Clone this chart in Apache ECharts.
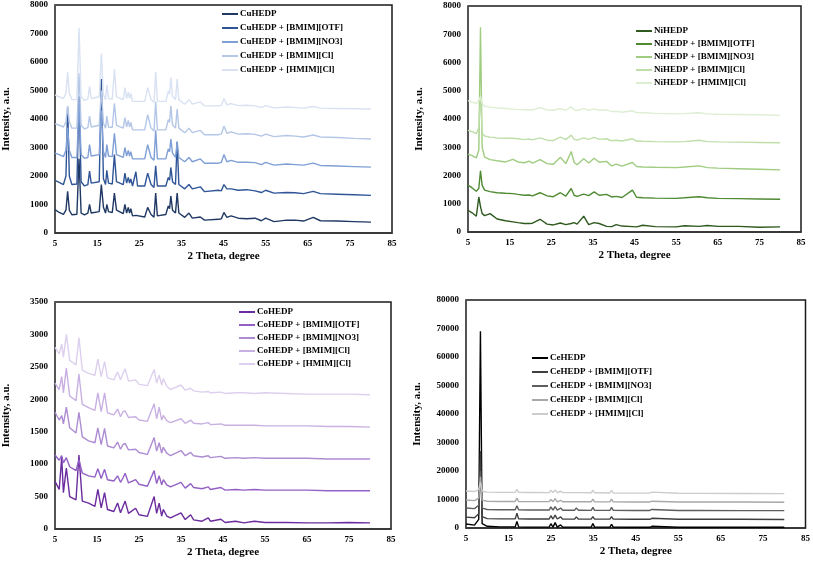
<!DOCTYPE html>
<html>
<head>
<meta charset="utf-8">
<script src="https://cdn.jsdelivr.net/npm/echarts@6/dist/echarts.min.js"></script>
<style>html,body{margin:0;padding:0;background:#fff}#c{width:813px;height:562px}</style>
</head>
<body>
<div id="c"></div>
<script>
// ---------- Cu panel ----------
const cuTheta = [
 5,6,7,7.6,8.0,8.4,9,10.2,10.7,11.2,
 12,12.8,13.2,13.6,15.5,16.0,16.5,17.0,17.3,17.7,
 18.6,19.1,19.6,21.2,21.6,22.0,22.4,22.7,23.0,23.4,
 24.2,24.6,26.3,27.0,27.8,28.5,28.9,29.3,31.3,31.9,
 32.2,32.5,32.9,33.6,34.0,34.4,35.8,36.8,37.6,39.5,
 40.5,43.8,44.5,45.1,45.8,46.8,48.5,50.5,52.5,54,
 55,57,60,62,64,66.3,68,72,76,80];
const cuNames = ['CuHEDP','CuHEDP + [BMIM][OTF]','CuHEDP + [BMIM][NO3]','CuHEDP + [BMIM][Cl]','CuHEDP + [HMIM][Cl]'];
const cuHEDP = [
 820,720,650,800,1460,800,640,660,2600,700,
 640,700,1000,700,750,1700,900,700,1000,750,
 720,1400,800,680,1000,700,900,700,850,600,
 620,550,560,900,650,550,1400,600,650,950,
 850,1300,800,700,1400,700,550,700,520,560,
 450,480,500,720,550,600,520,500,520,430,
 520,400,450,450,420,550,430,420,400,380];
const cuOTF = [
 1850,1780,1700,2000,4400,2000,1700,1720,4800,1800,
 1650,1700,2170,1750,1800,5400,1900,1700,2200,1750,
 1720,2750,1800,1700,2100,1750,1950,1750,1900,1650,
 2150,1650,1650,2100,1700,1600,2360,1650,1650,1950,
 1850,2300,1800,1700,3200,1700,1550,1700,1550,1620,
 1450,1500,1480,1700,1550,1550,1500,1520,1480,1420,
 1500,1400,1420,1410,1380,1460,1380,1360,1340,1320];
const cuNO3 = [
 2800,2750,2680,2900,3700,2900,2650,2650,4600,2750,
 2620,2650,3100,2700,2750,4300,2850,2650,3100,2700,
 2680,3500,2750,2650,3000,2700,2900,2700,2850,2600,
 2600,2550,2600,3100,2650,2550,3600,2600,2600,2950,
 2850,3300,2800,2650,3200,2650,2500,2650,2500,2600,
 2450,2450,2480,2750,2500,2550,2480,2480,2470,2400,
 2480,2380,2420,2400,2380,2450,2370,2350,2330,2310];
const cuCl = [
 3840,3780,3720,3900,4450,3900,3680,3680,5600,3780,
 3650,3700,4100,3720,3780,5000,3850,3680,4100,3720,
 3700,4550,3780,3680,4050,3720,3950,3720,3880,3620,
 3620,3580,3620,4150,3680,3580,4600,3620,3620,3980,
 3880,4450,3800,3680,4350,3680,3520,3680,3520,3600,
 3450,3450,3480,3750,3500,3550,3470,3480,3460,3400,
 3470,3380,3420,3400,3370,3440,3370,3350,3320,3300];
const cuHMIM = [
 4850,4780,4720,4900,5650,4900,4680,4680,7200,4780,
 4650,4700,5150,4720,4780,6300,4850,4680,5200,4720,
 4700,5750,4780,4680,5100,4720,4950,4720,4900,4620,
 4620,4580,4620,5100,4680,4580,5650,4620,4620,4980,
 4880,5450,4800,4680,5400,4680,4520,4680,4520,4600,
 4460,4460,4480,4720,4500,4540,4470,4480,4460,4400,
 4470,4390,4420,4400,4380,4440,4380,4370,4360,4350];

// ---------- Ni panel ----------
const niTheta = [
 5,6,7,7.6,8.0,8.4,9,10.3,12,14,
 15.8,17,18.5,19.7,20.5,22.3,24,25.5,27.2,28.5,
 29.8,30.5,31.2,32.8,34,35.3,36.5,38.3,39.5,40.6,
 42,44.5,45.5,47,50,55,57,60.5,62.5,65,
 70,75,80];
const niNames = ['NiHEDP','NiHEDP + [BMIM][OTF]','NiHEDP + [BMIM][NO3]','NiHEDP + [BMIM][Cl]','NiHEDP + [HMIM][Cl]'];
const niHEDP = [
 770,680,560,1240,900,650,580,650,460,400,
 360,330,300,300,310,450,280,250,320,260,
 300,330,280,560,260,330,300,200,190,260,
 210,190,180,240,190,180,220,200,230,200,
 200,170,180];
const niOTF = [
 1660,1560,1440,1550,2170,1650,1480,1430,1390,1370,
 1360,1330,1300,1310,1280,1390,1280,1250,1390,1270,
 1540,1300,1260,1340,1290,1420,1300,1330,1240,1260,
 1220,1480,1230,1210,1200,1190,1210,1250,1210,1190,
 1180,1170,1160];
const niNO3 = [
 2760,2700,2620,2900,7250,3000,2650,2560,2520,2480,
 2570,2480,2450,2510,2440,2560,2420,2400,2650,2420,
 2850,2460,2380,2590,2440,2610,2470,2500,2340,2400,
 2330,2460,2320,2300,2290,2280,2300,2340,2280,2260,
 2240,2220,2200];
const niCl = [
 3600,3550,3480,3700,4800,3500,3400,3360,3330,3320,
 3320,3300,3270,3290,3260,3330,3250,3240,3360,3270,
 3430,3280,3250,3330,3280,3350,3280,3300,3230,3250,
 3220,3300,3220,3210,3200,3190,3200,3250,3200,3190,
 3180,3170,3160];
const niHMIM = [
 4650,4600,4550,4650,4800,4550,4450,4420,4390,4370,
 4350,4340,4330,4330,4320,4400,4320,4310,4370,4310,
 4430,4320,4300,4370,4310,4360,4310,4320,4260,4270,
 4240,4290,4230,4220,4200,4180,4190,4220,4180,4170,
 4160,4150,4130];

// ---------- Co panel ----------
const coTheta = [
 5,6,6.6,7.0,7.7,8.5,10,10.7,11.5,13,
 14.5,15.2,16,16.8,17.5,19,19.9,20.6,21.2,21.7,
 22.5,24.2,25,27,28.6,29.2,29.8,30.4,30.8,31.6,
 32.5,35,36,37.3,38,40,41.5,42,44.5,45.5,
 48,50,52.5,55,60,65,70,75,80];
const coNames = ['CoHEDP','CoHEDP + [BMIM][OTF]','CoHEDP + [BMIM][NO3]','CoHEDP + [BMIM][Cl]','CoHEDP + [HMIM][Cl]'];
const coHEDP = [
 735,610,1100,560,940,500,450,1140,430,400,
 350,610,325,560,300,270,400,250,350,430,
 240,320,220,195,500,240,400,200,300,200,
 170,250,145,220,140,120,170,120,150,100,
 120,95,120,100,100,95,95,100,95];
const coOTF = [
 1140,1060,1130,1020,1100,960,900,1070,860,820,
 800,930,780,920,760,740,820,720,790,860,
 710,760,690,660,900,700,820,680,760,680,
 650,720,630,700,640,620,650,610,640,600,
 610,600,610,600,600,600,590,590,590];
const coNO3 = [
 1800,1680,1750,1620,1880,1560,1480,1800,1420,1360,
 1330,1560,1300,1550,1280,1250,1340,1230,1300,1320,
 1220,1230,1180,1150,1410,1200,1330,1170,1260,1170,
 1130,1210,1130,1180,1130,1110,1130,1100,1120,1090,
 1100,1090,1100,1090,1090,1090,1080,1080,1080];
const coCl = [
 2250,2150,2350,2100,2480,2050,1980,2390,1920,1870,
 1830,2100,1810,2100,1790,1760,1850,1730,1810,1820,
 1720,1730,1680,1660,1930,1700,1880,1680,1750,1670,
 1640,1700,1630,1680,1630,1620,1640,1610,1620,1600,
 1600,1600,1600,1590,1590,1590,1580,1580,1570];
const coHMIM = [
 2800,2700,2850,2650,3000,2600,2530,2950,2450,2400,
 2370,2620,2350,2580,2330,2300,2420,2300,2400,2470,
 2280,2300,2230,2210,2460,2250,2370,2220,2320,2200,
 2150,2220,2140,2170,2130,2110,2120,2100,2110,2090,
 2100,2100,2090,2100,2090,2080,2080,2080,2070];

// ---------- Ce panel ----------
const ceTheta = [
 5,7,8.0,8.4,8.8,10,13,16.6,17.0,17.4,
 19.7,20,20.3,24.6,25.0,25.5,26.0,26.5,27.3,27.8,
 28.6,29.0,29.4,30.6,31.0,31.5,31.8,32.2,34.5,34.9,
 35.3,36.2,36.6,37.0,38.9,39.3,39.7,44.4,44.8,45.2,
 47.5,47.9,48.3,48.8,49.2,55,60,70,80];
const ceNames = ['CeHEDP','CeHEDP + [BMIM][OTF]','CeHEDP + [BMIM][NO3]','CeHEDP + [BMIM][Cl]','CeHEDP + [HMIM][Cl]'];
const ceHEDP = [
 1400,1000,3000,69000,1500,600,400,400,2300,400,
 300,900,300,300,1500,300,1900,300,1100,300,
 300,800,300,300,1000,300,800,300,300,1600,
 300,300,800,300,300,1300,300,250,700,250,
 250,700,250,600,250,250,250,250,250];
const ceOTF = [
 3800,3600,5000,27000,4000,3300,3200,3200,5200,3200,
 3150,3700,3150,3150,4300,3150,4500,3150,3900,3100,
 3100,3700,3100,3100,3900,3100,3600,3100,3100,4000,
 3100,3100,3600,3100,3100,4000,3100,3050,3500,3050,
 3050,3500,3050,3400,3050,3050,3050,3050,3000];
const ceNO3 = [
 7000,6800,8000,20000,7000,6500,6400,6400,7800,6400,
 6300,6800,6300,6300,7400,6300,7500,6300,7000,6250,
 6250,6800,6250,6250,7000,6250,6700,6250,6200,7200,
 6200,6200,6700,6200,6200,7200,6200,6150,6600,6150,
 6150,6600,6150,6500,6150,6150,6150,6100,6100];
const ceCl = [
 9800,9600,10500,18000,9800,9400,9300,9300,10500,9300,
 9250,9600,9250,9250,10000,9250,10300,9200,9700,9200,
 9200,9600,9200,9200,9800,9200,9600,9200,9200,10100,
 9200,9150,9600,9150,9150,10100,9150,9100,9500,9100,
 9100,9500,9100,9400,9100,9100,9100,9100,9050];
const ceHMIM = [
 13000,12800,13500,16000,12900,12600,12500,12500,13600,12500,
 12450,12800,12450,12400,13300,12400,13400,12400,12900,12400,
 12400,12800,12400,12400,13000,12400,12800,12400,12350,13300,
 12350,12350,12800,12350,12300,13200,12300,12250,12700,12250,
 12250,12700,12250,12600,12200,12200,12150,12100,12050];

// ---------- axis tick settings ----------
const xTicks = {min: 5, max: 85, interval: 10};
const cuY = {min: 0, max: 8000, interval: 1000};
const niY = {min: 0, max: 8000, interval: 1000};
const coY = {min: 0, max: 3500, interval: 500};
const ceY = {min: 0, max: 80000, interval: 10000};

const panels = [
  {theta: cuTheta, ys: [cuHEDP, cuOTF, cuNO3, cuCl, cuHMIM], names: cuNames, y: cuY,
   colors: ['#1f3864','#2f5597','#7f9fd6','#b4c7e7','#d9e2f3'],
   grid: {left: 53, top: 5, width: 339, height: 228},
   legend: {left: 222, top: 8, gap: 2}},
  {theta: niTheta, ys: [niHEDP, niOTF, niNO3, niCl, niHMIM], names: niNames, y: niY,
   colors: ['#2f5a1f','#4f8a33','#9fcc80','#bfdea9','#ddeed2'],
   grid: {left: 468, top: 6, width: 333, height: 226},
   legend: {left: 636, top: 25, gap: 1}},
  {theta: coTheta, ys: [coHEDP, coOTF, coNO3, coCl, coHMIM], names: coNames, y: coY,
   colors: ['#6a2c9e','#9361c6','#ae8cd3','#c8b1e2','#ddd0ee'],
   grid: {left: 52, top: 302, width: 339, height: 227},
   legend: {left: 239, top: 306, gap: 1}},
  {theta: ceTheta, ys: [ceHEDP, ceOTF, ceNO3, ceCl, ceHMIM], names: ceNames, y: ceY,
   colors: ['#000000','#3f3f3f','#5e5e5e','#a8a8a8','#cccccc'],
   grid: {left: 466, top: 300, width: 341, height: 228},
   legend: {left: 532, top: 352, gap: 2}}
];

const FONT = 'Liberation Serif';
const option = {
  backgroundColor: '#fff',
  animation: false,
  grid: [], xAxis: [], yAxis: [], legend: [], series: []
};

panels.forEach((p, i) => {
  option.grid.push(Object.assign({show: true, borderColor: '#1a1a1a', borderWidth: 1.5, backgroundColor: 'transparent'}, p.grid));
  option.xAxis.push(Object.assign({
    type: 'value', gridIndex: i,
    name: '2 Theta, degree', nameLocation: 'middle', nameGap: 18,
    nameTextStyle: {fontFamily: FONT, fontWeight: 'bold', fontSize: 11, color: '#000'},
    axisLine: {show: true, lineStyle: {color: '#333', width: 1.5}},
    axisTick: {show: false}, splitLine: {show: false},
    axisLabel: {fontFamily: FONT, fontWeight: 'bold', fontSize: 9, color: '#000', margin: 6, formatter: v => String(v)}
  }, xTicks));
  option.yAxis.push(Object.assign({
    type: 'value', gridIndex: i,
    name: 'Intensity, a.u.', nameLocation: 'middle', nameGap: 43, nameRotate: 90,
    nameTextStyle: {fontFamily: FONT, fontWeight: 'bold', fontSize: 11, color: '#000'},
    axisLine: {show: true, lineStyle: {color: '#555', width: 1}},
    axisTick: {show: false}, splitLine: {show: false},
    axisLabel: {fontFamily: FONT, fontWeight: 'bold', fontSize: 9, color: '#000', margin: 7, formatter: v => String(v)}
  }, p.y));
  option.legend.push({
    orient: 'vertical', left: p.legend.left, top: p.legend.top,
    data: p.names, icon: 'rect', itemWidth: 16, itemHeight: 2, itemGap: p.legend.gap,
    textStyle: {fontFamily: FONT, fontWeight: 'bold', fontSize: 9, color: '#000', lineHeight: 12, padding: [0, 0, 0, -3]},
    padding: 0, selectedMode: false
  });
  p.ys.forEach((ys, k) => {
    option.series.push({
      type: 'line', name: p.names[k], xAxisIndex: i, yAxisIndex: i,
      data: p.theta.map((t, j) => [t, ys[j]]),
      showSymbol: false, symbol: 'none',
      color: p.colors[k],
      lineStyle: {color: p.colors[k], width: 1.4},
      z: 2 + k
    });
  });
});

const chart = echarts.init(document.getElementById('c'), null, {renderer: 'canvas'});
chart.setOption(option);
</script>
</body>
</html>
